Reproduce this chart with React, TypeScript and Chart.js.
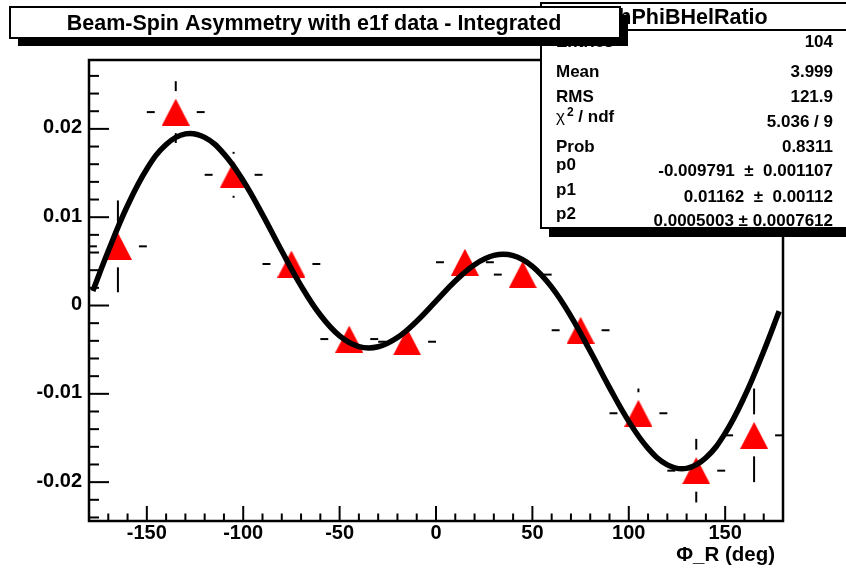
import React, { useEffect, useRef } from 'react';
import { Chart, registerables } from 'chart.js';

Chart.register(...registerables);

// ---------- data ----------
const binCenters = [-165, -135, -105, -75, -45, -15, 15, 45, 75, 105, 135, 165];
const asymmetry = [0.0067, 0.0219, 0.0148, 0.0047, -0.0038, -0.0041, 0.0049, 0.0035, -0.0028, -0.0122, -0.0187, -0.0147];
const asymmetryErr = [0.0052, 0.0035, 0.0026, 0.002, 0.002, 0.002, 0.002, 0.002, 0.002, 0.0028, 0.0036, 0.0053];
const binHalfWidth = 15;

// fit curve
const fitPhi = [-178, -170, -160, -150, -140, -130, -120, -110, -100, -90, -80, -70, -60, -50, -40, -30, -20, -10, 0, 10, 20, 30, 40, 50, 60, 70, 80, 90, 100, 110, 120, 130, 140, 150, 160, 170, 178];
const fitValues = [0.00165, 0.00617, 0.01132, 0.01546, 0.01824, 0.01944, 0.01904, 0.01717, 0.01412, 0.01029, 0.00617, 0.00223, -0.00108, -0.00344, -0.00465, -0.00467, -0.00362, -0.00177, 0.0005, 0.00277, 0.00462, 0.00567, 0.00565, 0.00444, 0.00208, -0.00123, -0.00517, -0.00929, -0.01312, -0.01617, -0.01804, -0.01844, -0.01724, -0.01446, -0.01032, -0.00517, -0.00065];

const xTickLabels = ['-150', '-100', '-50', '0', '50', '100', '150'];
const yTickLabels = ['-0.02', '-0.01', '0', '0.01', '0.02'];

const chartTitle = 'Beam-Spin Asymmetry with e1f data - Integrated';
const histName = 'hPhiBHelRatio';
const xAxisTitle = '\u03A6_R (deg)';
const statsLabels = ['Entries', 'Mean', 'RMS', 'chi2', 'Prob', 'p0', 'p1', 'p2'];
const statsValues = ['104', '3.999', '121.9', '5.036 / 9', '0.8311', '-0.009791  \u00B1  0.001107', '0.01162  \u00B1  0.00112', '0.0005003 \u00B1 0.0007612'];

const FONT = '"Liberation Sans", Arial, Helvetica, sans-serif';

function makeTriangle(w: number, h: number, color: string) {
  const c = document.createElement('canvas');
  c.width = w;
  c.height = h;
  const g = c.getContext('2d')!;
  g.fillStyle = color;
  g.beginPath();
  g.moveTo(w / 2, 0);
  g.lineTo(w, h);
  g.lineTo(0, h);
  g.closePath();
  g.fill();
  return c;
}

function line(ctx: CanvasRenderingContext2D, x1: number, y1: number, x2: number, y2: number) {
  ctx.beginPath();
  ctx.moveTo(x1, y1);
  ctx.lineTo(x2, y2);
  ctx.stroke();
}

const isXMajor = (v: number) => xTickLabels.includes(String(v));
const yLabelFor = (v: number) => {
  const r = Math.round(v * 100) / 100;
  if (Math.abs(v - r) > 1e-9) return '';
  const s = r === 0 ? '0' : String(r);
  return yTickLabels.includes(s) ? s : '';
};

const framePlugin = {
  id: 'rootFrame',
  beforeDatasetsDraw(chart: any) {
    const { ctx, chartArea: a } = chart;
    const xs = chart.scales.x;
    const ys = chart.scales.y;
    ctx.save();
    ctx.strokeStyle = '#000';
    ctx.lineWidth = 2.5;
    ctx.strokeRect(a.left, a.top, a.right - a.left, a.bottom - a.top);
    ctx.lineWidth = 2;
    xs.ticks.forEach((t: any) => {
      const p = xs.getPixelForValue(t.value);
      const len = isXMajor(t.value) ? 15 : 7.5;
      line(ctx, p, a.bottom, p, a.bottom - len);
    });
    ys.ticks.forEach((t: any) => {
      const p = ys.getPixelForValue(t.value);
      const len = yLabelFor(t.value) !== '' ? 20 : 10;
      line(ctx, a.left, p, a.left + len, p);
    });
    // error bars with a gap around the marker
    const gap = 21;
    binCenters.forEach((c, i) => {
      const px = xs.getPixelForValue(c);
      const py = ys.getPixelForValue(asymmetry[i]);
      const xl = xs.getPixelForValue(c - binHalfWidth);
      const xr = xs.getPixelForValue(c + binHalfWidth);
      const yt = ys.getPixelForValue(asymmetry[i] + asymmetryErr[i]);
      const yb = ys.getPixelForValue(asymmetry[i] - asymmetryErr[i]);
      if (px - gap > xl) line(ctx, xl, py, px - gap, py);
      if (xr > px + gap) line(ctx, px + gap, py, xr, py);
      if (py - gap > yt) line(ctx, px, yt, px, py - gap);
      if (yb > py + gap) line(ctx, px, py + gap, px, yb);
    });
    ctx.restore();
  },
  afterDraw(chart: any) {
    const { ctx } = chart;
    ctx.save();
    ctx.textBaseline = 'alphabetic';
    // x axis title
    ctx.fillStyle = '#000';
    ctx.font = `bold 20.5px ${FONT}`;
    ctx.textAlign = 'right';
    ctx.fillText(xAxisTitle, 775, 561);

    // stats box
    ctx.fillStyle = '#000';
    ctx.fillRect(549, 228, 310, 9);
    ctx.fillStyle = '#fff';
    ctx.fillRect(541, 3, 320, 225);
    ctx.strokeStyle = '#000';
    ctx.lineWidth = 2;
    ctx.strokeRect(541, 3, 320, 225);
    line(ctx, 541, 30, 846, 30);
    ctx.fillStyle = '#000';
    ctx.font = `bold 21.5px ${FONT}`;
    ctx.textAlign = 'center';
    ctx.fillText(histName, 693, 24);

    const valueBase = [47, 77, 101.5, 127, 151.5, 176, 201.5, 226];
    const labelBase = [47, 77, 101.5, 122, 151.5, 170, 195, 219];
    ctx.font = `bold 17px ${FONT}`;
    statsLabels.forEach((lab, i) => {
      ctx.textAlign = 'left';
      if (lab === 'chi2') {
        ctx.font = `17px ${FONT}`;
        ctx.fillText('\u03C7', 556, labelBase[i]);
        const w1 = ctx.measureText('\u03C7').width;
        ctx.font = `bold 12px ${FONT}`;
        ctx.fillText('2', 556 + w1 + 2, labelBase[i] - 6);
        const w2 = ctx.measureText('2').width;
        ctx.font = `bold 17px ${FONT}`;
        ctx.fillText(' / ndf', 556 + w1 + 2 + w2, labelBase[i]);
      } else {
        ctx.fillText(lab, 556, labelBase[i]);
      }
      ctx.textAlign = 'right';
      ctx.fillText(statsValues[i], 833, valueBase[i]);
    });

    // title box
    ctx.fillStyle = '#000';
    ctx.fillRect(18, 15, 610, 31);
    ctx.fillStyle = '#fff';
    ctx.fillRect(10, 7, 610, 31);
    ctx.strokeRect(10, 7, 610, 31);
    ctx.fillStyle = '#000';
    ctx.font = `bold 21.5px ${FONT}`;
    ctx.textAlign = 'center';
    ctx.fillText(chartTitle, 314, 30);
    ctx.restore();
  },
};

export default function App() {
  const ref = useRef<HTMLCanvasElement>(null);
  useEffect(() => {
    const canvas = ref.current!;
    const tri = makeTriangle(28, 27, '#ff0000');
    const chart = new Chart(canvas, {
      type: 'scatter',
      data: {
        datasets: [
          {
            label: 'fit',
            data: fitPhi.map((x, i) => ({ x, y: fitValues[i] })),
            showLine: true,
            borderColor: '#000',
            borderWidth: 5.5,
            pointRadius: 0,
            tension: 0.4,
            fill: false,
          },
          {
            label: histName,
            data: binCenters.map((x, i) => ({ x, y: asymmetry[i] })),
            showLine: false,
            pointStyle: tri as any,
            pointRadius: 14,
            backgroundColor: '#ff0000',
            borderColor: '#ff0000',
          },
        ],
      },
      plugins: [framePlugin],
      options: {
        responsive: false,
        animation: false,
        events: [],
        layout: { padding: { left: 0, top: 60, right: 63, bottom: 0 } },
        plugins: { legend: { display: false }, tooltip: { enabled: false }, title: { display: false } },
        scales: {
          x: {
            type: 'linear',
            min: -180,
            max: 180,
            afterFit: (s: any) => { s.height = 49; },
            grid: { display: false, drawTicks: false },
            border: { display: false },
            ticks: {
              stepSize: 10,
              autoSkip: false,
              maxRotation: 0,
              includeBounds: false,
              padding: 0,
              color: '#000',
              font: { family: FONT, weight: 'bold', size: 20 },
              callback: (v: any) => (isXMajor(Number(v)) ? String(v) : ''),
            },
          },
          y: {
            type: 'linear',
            min: -0.0244,
            max: 0.0278,
            afterFit: (s: any) => { s.width = 89; },
            grid: { display: false, drawTicks: false },
            border: { display: false },
            ticks: {
              stepSize: 0.002,
              autoSkip: false,
              includeBounds: false,
              padding: 7,
              labelOffset: -1,
              color: '#000',
              font: { family: FONT, weight: 'bold', size: 20 },
              callback: (v: any) => yLabelFor(Number(v)),
            },
          },
        },
      } as any,
    });
    return () => chart.destroy();
  }, []);
  return (
    <div style={{ position: 'absolute', left: 0, top: 0, width: 846, height: 570, background: '#fff' }}>
      <canvas ref={ref} width={846} height={570} />
    </div>
  );
}
